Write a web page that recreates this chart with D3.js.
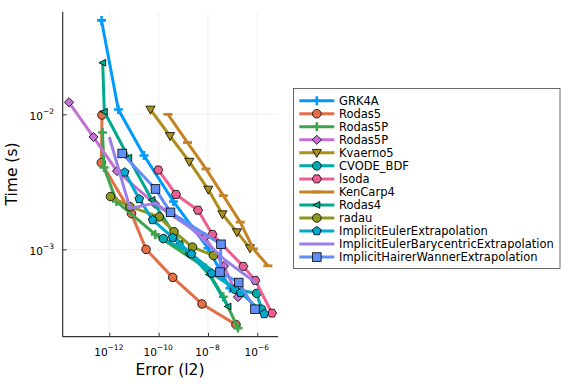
<!DOCTYPE html>
<html>
<head>
<meta charset="utf-8">
<script src="https://d3js.org/d3.v7.min.js"></script>
<style>
  body { margin: 0; background: #fff; }
  text { font-family: "DejaVu Sans", sans-serif; fill: #000; }
</style>
</head>
<body>
<svg id="chart" width="576" height="384"></svg>
<script>
// work-precision data: [error (l2), time (s)]
const GRK4A = [[4.83e-13, 0.0496], [2.32e-12, 0.01086], [2.55e-11, 4.95e-3], [4.0e-10, 2.26e-3], [1.0e-8, 1.02e-3], [7.8e-8, 5.16e-4]];
const Rodas5 = [[5.06e-13, 9.9e-3], [4.74e-13, 4.38e-3], [7.94e-12, 1.84e-3], [3.08e-11, 1.0e-3], [3.72e-10, 6.2e-4], [5.73e-9, 3.94e-4], [1.37e-7, 2.77e-4]];
const Rodas5P_a = [[5.3e-13, 7.33e-3], [6.1e-13, 4.04e-3], [1.96e-12, 2.26e-3], [7.33e-11, 1.29e-3], [8.32e-9, 7.27e-4], [4.18e-8, 4.46e-4], [1.65e-7, 2.61e-4]];
const Rodas5P_b = [[2.32e-14, 0.01227], [2.29e-13, 6.79e-3], [2.05e-12, 3.8e-3], [7.11e-11, 2.17e-3], [7.57e-9, 1.23e-3], [4.46e-8, 7.52e-4], [1.65e-7, 4.43e-4]];
const Kvaerno5 = [[4.68e-11, 0.01085], [2.89e-10, 6.91e-3], [1.75e-9, 4.46e-3], [1.03e-8, 2.77e-3], [3.88e-8, 1.82e-3], [1.5e-7, 1.34e-3], [5.05e-7, 1.02e-3]];
const CVODE_BDF = [[1.55e-10, 1.2e-3], [1.87e-9, 9.39e-4], [1.24e-7, 5.06e-4], [9.44e-7, 4.72e-4], [1.51e-6, 3.6e-4]];
const lsoda = [[9.69e-11, 3.87e-3], [5.06e-10, 2.55e-3], [3.94e-9, 1.95e-3], [1.52e-8, 1.29e-3], [2.7e-7, 7.48e-4], [8.28e-7, 5.89e-4], [3.94e-6, 3.37e-4]];
const KenCarp4 = [[2.39e-10, 0.01], [1.48e-9, 6.18e-3], [8.32e-9, 3.94e-3], [4.18e-8, 2.5e-3], [2.04e-7, 1.59e-3], [6.87e-7, 1.01e-3], [2.71e-6, 7.55e-4]];
const Rodas4 = [[5.4e-13, 0.0241], [6.27e-13, 0.01045], [6.11e-12, 4.77e-3], [5.38e-11, 2.32e-3], [7.34e-10, 1.11e-3], [1.13e-8, 6.5e-4], [6.48e-8, 3.77e-4]];
const radau = [[1.12e-12, 2.46e-3], [6.9e-12, 2.07e-3], [1.06e-10, 1.74e-3], [4.2e-10, 1.35e-3], [2.36e-9, 1.04e-3], [1.67e-8, 9.0e-4]];
const IEExtrap = [[4.21e-12, 3.72e-3], [1.64e-11, 2.36e-3], [5.74e-11, 1.65e-3], [3.72e-10, 1.22e-3], [2.15e-9, 9.23e-4], [1.42e-8, 6.64e-4], [2.12e-7, 4.77e-4], [1.92e-6, 3.32e-4]];
const IEBaryExtrap = [[1.0e-12, 6.79e-3], [6.9e-12, 2.01e-3], [7.11e-11, 2.2e-3], [1.87e-9, 1.46e-3], [4.9e-8, 8.34e-4], [9.44e-7, 5.6e-4]];
const IHWExtrap = [[3.33e-12, 5.13e-3], [7.46e-11, 2.8e-3], [3.03e-10, 1.88e-3], [3.37e-8, 1.09e-3], [3.07e-8, 6.79e-4], [1.77e-7, 5.68e-4], [8.05e-7, 3.6e-4]];

const names = ["GRK4A", "Rodas5", "Rodas5P", "Rodas5P", "Kvaerno5", "CVODE_BDF", "lsoda", "KenCarp4",
  "Rodas4", "radau", "ImplicitEulerExtrapolation", "ImplicitEulerBarycentricExtrapolation", "ImplicitHairerWannerExtrapolation"];
const allData = [GRK4A, Rodas5, Rodas5P_a, Rodas5P_b, Kvaerno5, CVODE_BDF, lsoda, KenCarp4, Rodas4, radau, IEExtrap, IEBaryExtrap, IHWExtrap];
const colors = ["#009AFA", "#E36F47", "#3EA44E", "#C371D2", "#AC8E18", "#00AAAE", "#ED5E93", "#C68225",
  "#00A98D", "#8E971E", "#00A9CD", "#9B7FE9", "#618DF6"];
const shapes = ["cross", "circle", "cross", "diamond", "dtriangle", "circle", "hexagon", "hline",
  "ltriangle", "circle", "pentagon", "none", "rect"];
const xTicks = [1e-12, 1e-10, 1e-8, 1e-6];
const xTickExp = ["−12", "−10", "−8", "−6"];
const yTicks = [1e-2, 1e-3];
const yTickExp = ["−2", "−3"];

var pL = 62.7, pR = 278, pT = 11.7, pB = 336.7;

var x = d3.scaleLog().domain([Math.pow(10, -13.89), Math.pow(10, -5.16)]).range([pL, pR]);
var y = d3.scaleLog().domain([Math.pow(10, -1.24), Math.pow(10, -3.647)]).range([pT, pB]);

var svg = d3.select("#chart");

// grid
svg.append("g").selectAll("line").data(xTicks).enter().append("line")
  .attr("x1", d => x(d)).attr("x2", d => x(d)).attr("y1", pT).attr("y2", pB)
  .attr("stroke", "#000").attr("stroke-opacity", 0.1).attr("stroke-width", 0.6);
svg.append("g").selectAll("line").data(yTicks).enter().append("line")
  .attr("y1", d => y(d)).attr("y2", d => y(d)).attr("x1", pL).attr("x2", pR)
  .attr("stroke", "#000").attr("stroke-opacity", 0.1).attr("stroke-width", 0.6);

// axes
var gx = svg.append("g").attr("transform", "translate(0," + pB + ")")
  .call(d3.axisBottom(x).tickValues(xTicks).tickSizeInner(-4).tickSizeOuter(0).tickFormat(""));
var gy = svg.append("g").attr("transform", "translate(" + pL + ",0)")
  .call(d3.axisLeft(y).tickValues(yTicks).tickSizeInner(-4).tickSizeOuter(0).tickFormat(""));
[gx, gy].forEach(function(g) {
  g.select(".domain").attr("stroke", "#333").attr("stroke-width", 1.2);
  g.selectAll(".tick line").attr("stroke", "#333").attr("stroke-width", 1);
});
gx.select(".domain").attr("d", "M" + pL + ",0H" + pR);
gy.select(".domain").attr("d", "M0," + pT + "V" + pB);

// tick labels with superscripts
xTicks.forEach(function(t, i) {
  var tx = svg.append("text").attr("x", x(t) - 0.5).attr("y", 355.5).attr("text-anchor", "middle")
    .style("font-size", "10.5px");
  tx.append("tspan").text("10");
  tx.append("tspan").attr("dy", -6).style("font-size", "7.5px").text(xTickExp[i]);
});
yTicks.forEach(function(t, i) {
  var ty = svg.append("text").attr("x", 54).attr("y", y(t) + 6).attr("text-anchor", "end")
    .style("font-size", "10.5px");
  ty.append("tspan").text("10");
  ty.append("tspan").attr("dy", -6).style("font-size", "7.5px").text(yTickExp[i]);
});

// axis titles
svg.append("text").attr("x", 170).attr("y", 375).attr("text-anchor", "middle")
  .style("font-size", "15.5px").text("Error (l2)");
svg.append("text").attr("transform", "translate(17,174) rotate(-90)").attr("text-anchor", "middle")
  .style("font-size", "15.5px").text("Time (s)");

function polyPath(n, r, rot) {
  var pts = [];
  for (var k = 0; k < n; k++) {
    var a = rot + k * 2 * Math.PI / n;
    pts.push([r * Math.cos(a), r * Math.sin(a)]);
  }
  return "M" + pts.map(p => p[0].toFixed(2) + "," + p[1].toFixed(2)).join("L") + "Z";
}

function drawMarker(g, shape, color, cx, cy) {
  var m;
  if (shape == "none") return;
  if (shape == "cross") {
    g.append("path").attr("d", "M" + (cx - 4.5) + "," + cy + "h9M" + cx + "," + (cy - 4.5) + "v9")
      .attr("stroke", color).attr("stroke-width", 2.6).attr("fill", "none");
    return;
  }
  if (shape == "hline") {
    g.append("rect").attr("x", cx - 4.5).attr("y", cy - 1.4).attr("width", 9).attr("height", 2.8)
      .attr("fill", color);
    return;
  }
  if (shape == "circle") {
    m = g.append("circle").attr("cx", cx).attr("cy", cy).attr("r", 4.3);
  } else if (shape == "rect") {
    m = g.append("rect").attr("x", cx - 4.3).attr("y", cy - 4.3).attr("width", 8.6).attr("height", 8.6);
  } else {
    var d;
    if (shape == "diamond") d = "M0,-4.6L4.6,0L0,4.6L-4.6,0Z";
    else if (shape == "dtriangle") d = "M-4.6,-3.4L4.6,-3.4L0,4.6Z";
    else if (shape == "ltriangle") d = "M-3.8,0L3,-3.4L3,3.4Z";
    else if (shape == "hexagon") d = polyPath(6, 4.6, 0);
    else if (shape == "pentagon") d = polyPath(5, 4.6, -Math.PI / 2);
    m = g.append("path").attr("d", d).attr("transform", "translate(" + cx + "," + cy + ")");
  }
  m.attr("fill", color).attr("stroke", "#000").attr("stroke-width", 0.8);
}

var line = d3.line().x(d => x(d[0])).y(d => y(d[1]));
var plot = svg.append("g");
allData.forEach(function(data, i) {
  var g = plot.append("g");
  g.append("path").datum(data).attr("d", line).attr("fill", "none")
    .attr("stroke", colors[i]).attr("stroke-width", 3).attr("stroke-linejoin", "round");
  data.forEach(function(d) { drawMarker(g, shapes[i], colors[i], x(d[0]), y(d[1])); });
});

// legend
var lg = svg.append("g");
lg.append("rect").attr("x", 293.5).attr("y", 88.5).attr("width", 266.5).attr("height", 180)
  .attr("fill", "#fff").attr("stroke", "#444").attr("stroke-width", 0.8);
names.forEach(function(n, i) {
  var ly = 100.7 + i * 13.03;
  lg.append("line").attr("x1", 299.3).attr("x2", 334.3).attr("y1", ly).attr("y2", ly)
    .attr("stroke", colors[i]).attr("stroke-width", 3);
  drawMarker(lg, shapes[i], colors[i], 316.8, ly);
  lg.append("text").attr("x", 339).attr("y", ly + 4).style("font-size", "11.5px").text(n);
});
</script>
</body>
</html>
